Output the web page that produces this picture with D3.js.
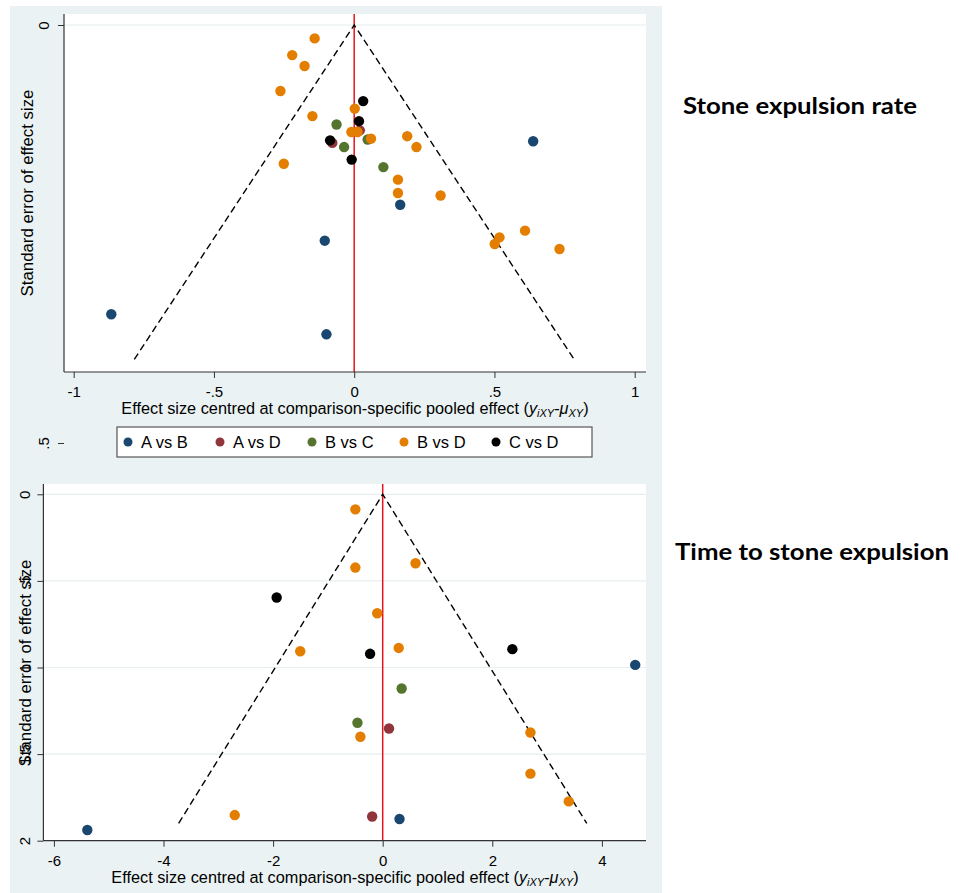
<!DOCTYPE html>
<html>
<head>
<meta charset="utf-8">
<script src="https://cdn.jsdelivr.net/npm/d3@7"></script>
<style>
  body { margin: 0; background: #fff; }
  text { font-family: "Liberation Sans", Arial, sans-serif; fill: #000; }
</style>
</head>
<body>
<script>
// comparisons and their marker colours
var groups = ["A vs B", "A vs D", "B vs C", "B vs D", "C vs D"];
var groupColors = ["#1a476f", "#90353b", "#55752f", "#e37e00", "#000000"];

// Stone expulsion rate: [centred effect, standard error]
var rateAvsB = [[0.638, 0.139], [0.164, 0.215], [-0.105, 0.258], [-0.866, 0.346], [-0.099, 0.370]];
var rateAvsD = [[0.020, 0.126], [-0.078, 0.141]];
var rateBvsC = [[-0.063, 0.119], [-0.036, 0.146], [0.048, 0.137], [0.104, 0.170]];
var rateBvsD = [[-0.141, 0.016], [-0.221, 0.036], [-0.177, 0.049], [-0.263, 0.079], [-0.149, 0.109],
                [0.002, 0.100], [-0.010, 0.128], [0.012, 0.128], [0.060, 0.136], [0.189, 0.133],
                [0.222, 0.146], [-0.251, 0.166], [0.156, 0.185], [0.156, 0.201], [0.308, 0.204],
                [0.609, 0.246], [0.518, 0.254], [0.501, 0.262], [0.732, 0.268]];
var rateCvsD = [[0.032, 0.091], [0.017, 0.115], [-0.086, 0.138], [-0.009, 0.161]];

// Time to stone expulsion: [centred effect, standard error]
var timeAvsB = [[4.608, 0.985], [0.307, 1.875], [-5.390, 1.938]];
var timeAvsD = [[0.115, 1.352], [-0.192, 1.860]];
var timeBvsC = [[0.346, 1.121], [-0.461, 1.319]];
var timeBvsD = [[-0.499, 0.087], [-0.499, 0.423], [0.599, 0.398], [-0.100, 0.687], [-1.505, 0.906],
                [0.292, 0.887], [-0.407, 1.400], [2.696, 1.375], [2.696, 1.613], [3.395, 1.773],
                [-2.700, 1.852]];
var timeCvsD = [[-1.935, 0.596], [-0.230, 0.921], [2.366, 0.894]];

// axis ticks and funnel depth
var rateXTicks = [-1, -0.5, 0, 0.5, 1];
var rateYTicks = [0, 0.5];
var rateFunnelSE = 0.4;
var timeXTicks = [-6, -4, -2, 0, 2, 4];
var timeYTicks = [0, 0.5, 1, 1.5, 2];
var timeFunnelSE = 1.9;

var svg = d3.select("body").append("svg")
  .attr("width", 960)
  .attr("height", 893);

// grey graph region behind both panels
svg.append("rect")
  .attr("x", 10).attr("y", 6)
  .attr("width", 652).attr("height", 887)
  .attr("fill", "#eaf2f3");

var fmt = function(d) { return String(d).replace("0.", "."); };

function drawPanel(p) {
  var x = d3.scaleLinear().domain(p.xDomain).range(p.xRange);
  var y = d3.scaleLinear().domain(p.yDomain).range(p.yRange);
  var g = svg.append("g");

  // plot region
  g.append("rect")
    .attr("x", p.left).attr("y", p.top)
    .attr("width", p.right - p.left).attr("height", p.bottom - p.top)
    .attr("fill", "#fff");

  // gridlines
  g.selectAll(".grid")
    .data(p.grid)
    .enter().append("line")
    .attr("x1", p.left).attr("x2", p.right)
    .attr("y1", d => y(d)).attr("y2", d => y(d))
    .attr("stroke", "#e6eef0")
    .attr("stroke-width", 1.2);

  // red line at zero
  g.append("line")
    .attr("x1", x(0)).attr("x2", x(0))
    .attr("y1", p.top).attr("y2", p.bottom)
    .attr("stroke", "#e8141c")
    .attr("stroke-width", 1.5);

  // pseudo 95% confidence funnel
  var funnel = [[-1.96 * p.funnelSE, p.funnelSE], [0, 0], [1.96 * p.funnelSE, p.funnelSE]];
  g.append("path")
    .attr("d", d3.line().x(d => x(d[0])).y(d => y(d[1]))(funnel))
    .attr("fill", "none")
    .attr("stroke", "#000")
    .attr("stroke-width", 1.4)
    .attr("stroke-dasharray", "7,4");

  // points, one layer per comparison
  p.series.forEach(function(s, i) {
    g.selectAll(".pt" + i)
      .data(s)
      .enter().append("circle")
      .attr("cx", d => x(d[0]))
      .attr("cy", d => y(d[1]))
      .attr("r", 5.2)
      .attr("fill", groupColors[i]);
  });

  // axis lines
  g.append("line")
    .attr("x1", p.left).attr("x2", p.left)
    .attr("y1", p.top).attr("y2", p.bottom)
    .attr("stroke", "#333").attr("stroke-width", 1.2);
  g.append("line")
    .attr("x1", p.left).attr("x2", p.right)
    .attr("y1", p.bottom).attr("y2", p.bottom)
    .attr("stroke", "#333").attr("stroke-width", 1.2);

  var xAxis = g.append("g")
    .attr("transform", `translate(0, ${p.bottom})`)
    .call(d3.axisBottom(x).tickValues(p.xTicks).tickFormat(fmt).tickSize(6).tickSizeOuter(0));
  xAxis.select(".domain").remove();
  xAxis.selectAll("line").attr("stroke", "#333");
  xAxis.selectAll("text")
    .attr("y", 25).attr("dy", null)
    .style("font-size", "15px")
    .style("font-family", "Liberation Sans, Arial, sans-serif")
    .attr("fill", "#000");

  var yAxis = g.append("g")
    .attr("transform", `translate(${p.left}, 0)`)
    .call(d3.axisLeft(y).tickValues(p.yTicks).tickFormat(fmt).tickSize(6).tickSizeOuter(0));
  yAxis.select(".domain").remove();
  yAxis.selectAll("line").attr("stroke", "#333");
  yAxis.selectAll("text")
    .attr("transform", "rotate(-90)")
    .attr("x", 0).attr("y", p.yLabelOffset).attr("dy", null)
    .attr("text-anchor", "middle")
    .style("font-size", "15px")
    .style("font-family", "Liberation Sans, Arial, sans-serif")
    .attr("fill", "#000");

  // y title
  g.append("text")
    .attr("transform", `translate(${p.yTitleX}, ${p.yTitleY}) rotate(-90)`)
    .attr("text-anchor", "middle")
    .attr("dy", "0.35em")
    .style("font-size", "16.8px")
    .text("Standard error of effect size");

  // x title with subscripts
  var t = g.append("text")
    .attr("x", p.xTitleX).attr("y", p.xTitleY)
    .attr("text-anchor", "middle")
    .style("font-size", "16.3px");
  t.append("tspan").text("Effect size centred at comparison-specific pooled effect (");
  t.append("tspan").style("font-style", "italic").text("y");
  t.append("tspan").style("font-style", "italic").style("font-size", "11px").attr("dy", 3).text("iXY");
  t.append("tspan").attr("dy", -3).text("-");
  t.append("tspan").style("font-style", "italic").text("\u03bc");
  t.append("tspan").style("font-style", "italic").style("font-size", "11px").attr("dy", 3).text("XY");
  t.append("tspan").attr("dy", -3).text(")");
}

drawPanel({
  left: 64, right: 646, top: 14, bottom: 372,
  xDomain: [-1, 1], xRange: [73.7, 634.7],
  yDomain: [0, 0.5], yRange: [25, 443],
  xTicks: rateXTicks, yTicks: rateYTicks, grid: [0],
  funnelSE: rateFunnelSE,
  series: [rateAvsB, rateAvsD, rateBvsC, rateBvsD, rateCvsD],
  yLabelOffset: -15,
  yTitleX: 27, yTitleY: 193,
  xTitleX: 355, xTitleY: 414
});

drawPanel({
  left: 43.4, right: 646, top: 484, bottom: 840.7,
  xDomain: [-6, 4], xRange: [53.9, 601.9],
  yDomain: [0, 2], yRange: [494.3, 840.7],
  xTicks: timeXTicks, yTicks: timeYTicks, grid: [0, 0.5, 1, 1.5],
  funnelSE: timeFunnelSE,
  series: [timeAvsB, timeAvsD, timeBvsC, timeBvsD, timeCvsD],
  yLabelOffset: -13,
  yTitleX: 25, yTitleY: 663,
  xTitleX: 345, xTitleY: 883
});

// legend of the first panel
var legend = svg.append("g");
legend.append("rect")
  .attr("x", 117).attr("y", 427)
  .attr("width", 475).attr("height", 30)
  .attr("fill", "#fff")
  .attr("stroke", "#555")
  .attr("stroke-width", 1.2);
var items = legend.selectAll(".item")
  .data(groups)
  .enter().append("g")
  .attr("transform", (d, i) => `translate(${128 + i * 92}, 442)`);
items.append("circle")
  .attr("r", 4.5)
  .attr("fill", (d, i) => groupColors[i]);
items.append("text")
  .attr("x", 13)
  .attr("dy", "0.36em")
  .style("font-size", "16.5px")
  .text(d => d);

// panel captions on the right
svg.append("text")
  .attr("x", 683).attr("y", 114)
  .attr("textLength", 234).attr("lengthAdjust", "spacingAndGlyphs")
  .style("font-family", "Lato, 'Open Sans', sans-serif")
  .style("font-weight", "bold")
  .style("font-size", "23px")
  .text("Stone expulsion rate");
svg.append("text")
  .attr("x", 675).attr("y", 560)
  .attr("textLength", 274).attr("lengthAdjust", "spacingAndGlyphs")
  .style("font-family", "Lato, 'Open Sans', sans-serif")
  .style("font-weight", "bold")
  .style("font-size", "23px")
  .text("Time to stone expulsion");
</script>
</body>
</html>
